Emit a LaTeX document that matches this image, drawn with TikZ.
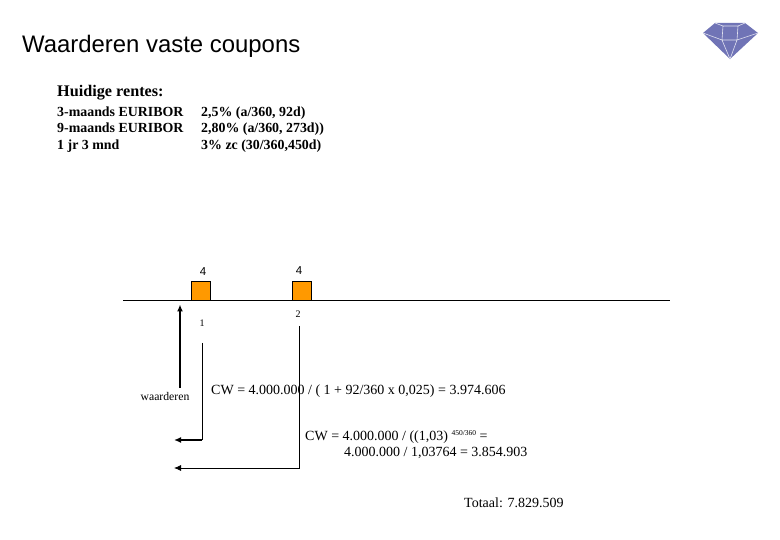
\documentclass[tikz,border=0pt]{standalone}
\usepackage{fontspec}
\setmainfont{Liberation Serif}
\newfontfamily\titlefont{Liberation Sans}
\usetikzlibrary{positioning,arrows.meta}
\definecolor{gem}{RGB}{112,116,182}
\definecolor{coupon}{RGB}{255,153,0}
\begin{document}
\begin{tikzpicture}[x=1pt,y=-1pt,font=\fontsize{14}{16}\selectfont]
  \tikzstyle{lbl} = [inner sep=0pt,anchor=base west]
  \tikzstyle{rate} = [lbl,font=\fontsize{13.9}{16}\selectfont\bfseries]
  \tikzstyle{coupon} = [draw=black,fill=coupon,minimum width=19pt,minimum height=19pt,inner sep=0pt]
  \tikzstyle{num} = [inner sep=0pt,font=\titlefont\fontsize{11.5}{13}\selectfont]
  \tikzstyle{tick} = [inner sep=0pt,font=\fontsize{10}{11}\selectfont]
  \tikzstyle{cash} = [-{Latex[length=7pt,width=6pt]},black]
  \useasboundingbox (0,0) rectangle (780,540);
  \node[lbl,font=\titlefont\fontsize{23.9}{27}\selectfont] (title) at (22,53) {Waarderen vaste coupons};
  % diamond
  \fill[gem] (703,33) -- (715,23) -- (745,23) -- (758,33) -- (730,59) -- cycle;
  \draw[white!80!gem,line width=.6pt] (703,33) -- (722,40) -- (737,40) -- (758,33)
    (715,23) -- (723,26) -- (738,26) -- (745,23)
    (723,26) -- (722,40) -- (730,59) -- (737,40) -- (738,26);
  % rates
  \node[lbl,font=\fontsize{16.2}{18}\selectfont\bfseries] (head) at (57,97) {Huidige rentes:};
  \foreach \n/\y/\a/\b in {1/117/3-maands EURIBOR/{2,5\% (a/360, 92d)},
      2/133/9-maands EURIBOR/{2,80\% (a/360, 273d))},
      3/150/1 jr 3 mnd/{3\% zc (30/360,450d)}}{
    \node[rate] (name\n) at (57,\y) {\a};
    \node[rate] (rate\n) at (201,\y) {\b};
  }
  % time line
  \coordinate (start) at (123,300);
  \coordinate (end) at (670,300);
  \draw[line width=.8pt] (start) -- (end);
  \node[coupon] (c1) at (201,290.5) {};
  \node[coupon,minimum width=18.5pt] (c2) at (301.5,290.5) {};
  \node[num] (v1) at (203,272) {4};
  \node[num] (v2) at (299,270.5) {4};
  \node[tick] (t1) at (202,323.5) {1};
  \node[tick] (t2) at (298,314) {2};
  % arrows
  \node[tick,font=\fontsize{11.7}{13}\selectfont,anchor=base] (val) at (165,400) {waarderen};
  \coordinate (up) at (180,304.5);
  \coordinate (up0) at (180,388);
  \draw[cash,line width=1.5pt] (up0) -- (up);
  \coordinate (a1) at (202,343);
  \coordinate (b1) at (202,440);
  \coordinate (e1) at (174,440);
  \coordinate (a2) at (299.3,326);
  \coordinate (b2) at (299.3,468);
  \coordinate (e2) at (174,468);
  \draw[line width=.8pt] (a1) -- (b1);
  \draw[cash,line width=1.5pt] (b1) -- (e1);
  \draw[cash,line width=.8pt] (a2) -- (b2) -- (e2);
  % results
  \node[lbl] (cw1) at (211,395) {CW = 4.000.000 / ( 1 + 92/360 x 0,025) = 3.974.606};
  \node[lbl] (cw2) at (305,440) {CW = 4.000.000 / ((1,03) \raisebox{.7ex}{\fontsize{7.5}{8}\selectfont 450/360} =};
  \node[lbl] (cw3) at (344,456) {4.000.000 / 1,03764 = 3.854.903};
  \node[lbl] (tot) at (464,507) {Totaal: 7.829.509};
\end{tikzpicture}
\end{document}
